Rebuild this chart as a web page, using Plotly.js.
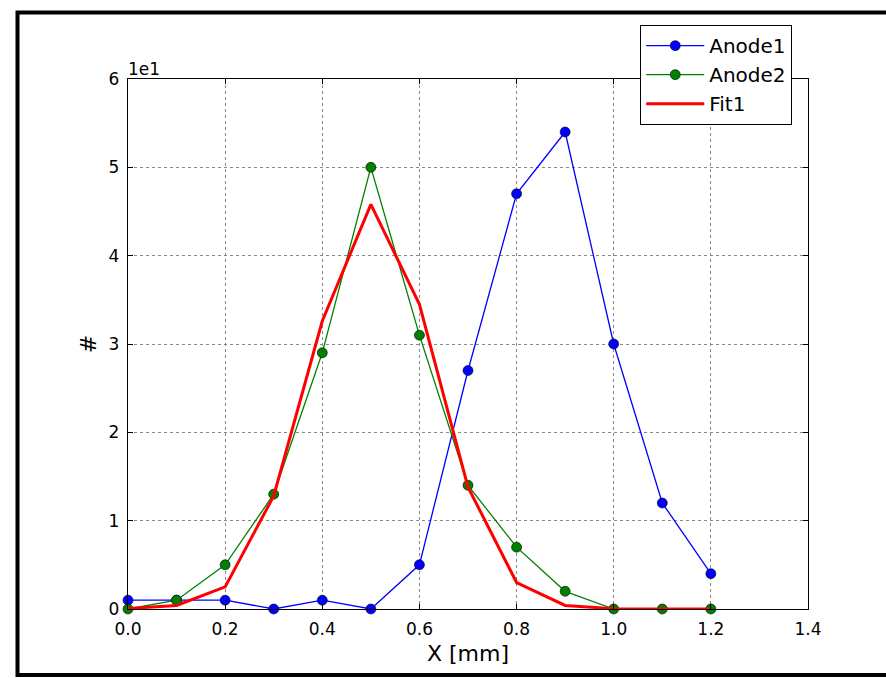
<!DOCTYPE html>
<html>
<head>
<meta charset="utf-8">
<script src="https://cdn.plot.ly/plotly-3.0.1.min.js"></script>
<style>
html,body{margin:0;padding:0;background:#fff;}
#chart{width:886px;height:678px;}
</style>
</head>
<body>
<div id="chart"></div>
<script>
const xValues = [0.0, 0.1, 0.2, 0.3, 0.4, 0.5, 0.6, 0.7, 0.8, 0.9, 1.0, 1.1, 1.2];
const anode1 = [1, 1, 1, 0, 1, 0, 5, 27, 47, 54, 30, 12, 4];
const anode2 = [0, 1, 5, 13, 29, 50, 31, 14, 7, 2, 0, 0, 0];
const fit1 = [0.05, 0.4, 2.5, 12.8, 32.6, 45.8, 34.5, 13.8, 3.0, 0.4, 0.03, 0, 0];
const xTicks = [0.0, 0.2, 0.4, 0.6, 0.8, 1.0, 1.2, 1.4];
const xTickText = ["0.0", "0.2", "0.4", "0.6", "0.8", "1.0", "1.2", "1.4"];
const yTicks = [0, 10, 20, 30, 40, 50, 60];
const yTickText = ["0", "1", "2", "3", "4", "5", "6"];

const font = "DejaVu Sans, sans-serif";

const traces = [
  {
    x: xValues, y: anode1, name: "Anode1", type: "scatter", mode: "lines+markers",
    line: {color: "#0000ff", width: 1.3},
    marker: {color: "#0000ff", size: 10, line: {color: "#000", width: 0.6}},
    cliponaxis: false
  },
  {
    x: xValues, y: anode2, name: "Anode2", type: "scatter", mode: "lines+markers",
    line: {color: "#008000", width: 1.3},
    marker: {color: "#008000", size: 10, line: {color: "#000", width: 0.6}},
    cliponaxis: false
  },
  {
    x: xValues, y: fit1, name: "Fit1", type: "scatter", mode: "lines",
    line: {color: "#ff0000", width: 3},
    cliponaxis: false
  }
];

const layout = {
  width: 886, height: 678,
  margin: {l: 128, r: 78, t: 79, b: 69, pad: 0},
  paper_bgcolor: "#ffffff",
  plot_bgcolor: "#ffffff",
  font: {family: font, color: "#000", size: 17},
  showlegend: true,
  legend: {
    x: 0.753, y: 1.102, xanchor: "left", yanchor: "top",
    bgcolor: "#ffffff", bordercolor: "#000", borderwidth: 1.2,
    font: {family: font, size: 20, color: "#000"},
    tracegroupgap: 0,
    itemwidth: 58
  },
  xaxis: {
    range: [0, 1.4], tickvals: xTicks, ticktext: xTickText,
    showgrid: true, gridcolor: "#888", griddash: "dot", gridwidth: 1,
    zeroline: false, showline: true, linecolor: "#000", linewidth: 1.2, mirror: "ticks",
    ticks: "inside", ticklen: 5, tickcolor: "#000",
    ticklabelstandoff: 4,
    tickfont: {family: font, size: 17, color: "#000"},
    title: {text: "X [mm]", font: {family: font, size: 22, color: "#000"}, standoff: 8}
  },
  yaxis: {
    range: [0, 60], tickvals: yTicks, ticktext: yTickText,
    showgrid: true, gridcolor: "#888", griddash: "dot", gridwidth: 1,
    zeroline: false, showline: true, linecolor: "#000", linewidth: 1.2, mirror: "ticks",
    ticks: "inside", ticklen: 5, tickcolor: "#000",
    ticklabelstandoff: 4,
    tickfont: {family: font, size: 17, color: "#000"},
    title: {text: "#", font: {family: font, size: 22, color: "#000"}, standoff: 5}
  },
  annotations: [
    {text: "1e1", xref: "paper", yref: "paper", x: 0, y: 1, xanchor: "left", yanchor: "bottom",
     showarrow: false, font: {family: font, size: 17, color: "#000"}, xshift: -2, yshift: -2}
  ],
  shapes: [
    {type: "rect", xref: "paper", yref: "paper",
     x0: -0.1625, x1: 1.12, y0: -0.1245, y1: 1.1255,
     line: {color: "#000", width: 4}, fillcolor: "rgba(0,0,0,0)", layer: "above"}
  ]
};

Plotly.newPlot("chart", traces, layout, {displayModeBar: false, staticPlot: true});
</script>
</body>
</html>
